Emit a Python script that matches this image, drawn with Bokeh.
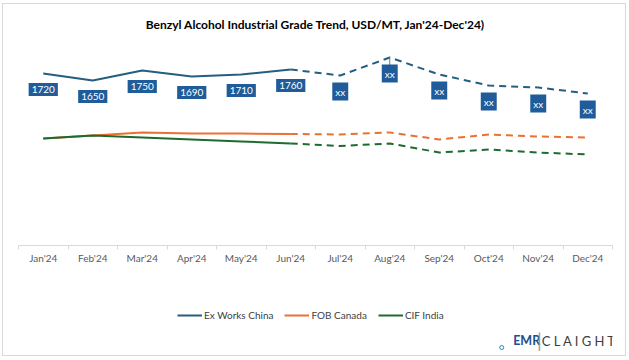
from bokeh.plotting import figure
from bokeh.layouts import column
from bokeh.models import Range1d, FixedTicker, Legend, LegendItem, ColumnDataSource
from bokeh.core.properties import value
from bokeh.embed import file_html
from bokeh.resources import INLINE

months = ["Jan'24", "Feb'24", "Mar'24", "Apr'24", "May'24", "Jun'24",
          "Jul'24", "Aug'24", "Sep'24", "Oct'24", "Nov'24", "Dec'24"]
ex_works_china = [1720, 1650, 1750, 1690, 1710, 1760, 1700, 1880, 1710, 1600, 1580, 1520]
fob_canada = [1070, 1100, 1130, 1120, 1120, 1115, 1110, 1130, 1060, 1110, 1090, 1080]
cif_india = [1070, 1100, 1080, 1060, 1040, 1020, 995, 1020, 930, 960, 930, 910]
ex_labels = ["1720", "1650", "1750", "1690", "1710", "1760", "xx", "xx", "xx", "xx", "xx", "xx"]
n_actual = 6  # Jan..Jun solid, Jun..Dec dashed
series_names = ["Ex Works China", "FOB Canada", "CIF India"]
title_text = "Benzyl Alcohol Industrial Grade Trend, USD/MT, Jan'24-Dec'24)"
logo_parts = ["EMR", "|", "C L A I G H T"]

FONT = "Lato"
BLUE = "#255E7E"
ORANGE = "#E97132"
GREEN = "#1E6B30"
BOX = "#1F5C99"
colors = [BLUE, ORANGE, GREEN]

xs = [i + 0.5 for i in range(len(months))]

W = 622
H1 = 286
H2 = 65
p = figure(width=W, height=H1, output_backend="svg", toolbar_location=None,
           x_range=Range1d(0, len(months)), y_range=Range1d(0, 2050),
           y_axis_location=None, min_border_left=15, min_border_right=13,
           min_border_top=36, min_border_bottom=H1 - 241)
p.outline_line_color = None
p.xgrid.visible = False
p.ygrid.visible = False
p.background_fill_color = "white"
p.border_fill_color = "white"

p.title.text = title_text
p.title.align = "center"
p.title.text_font = FONT
p.title.text_font_style = "bold"
p.title.text_font_size = "12px"
p.title.text_color = "#000000"
p.title.standoff = 18

ax = p.xaxis[0]
ax.ticker = FixedTicker(ticks=xs, minor_ticks=list(range(len(months) + 1)))
ax.major_label_overrides = {x: m for x, m in zip(xs, months)}
ax.major_tick_line_color = None
ax.major_tick_out = 0
ax.major_tick_in = 0
ax.minor_tick_out = 4
ax.minor_tick_in = 0
ax.minor_tick_line_color = "#d9d9d9"
ax.axis_line_color = "#d9d9d9"
ax.major_label_standoff = 2
ax.major_label_text_font = FONT
ax.major_label_text_font_size = "10px"
ax.major_label_text_color = "#595959"

for vals, col in zip([ex_works_china, fob_canada, cif_india], colors):
    p.line(xs[:n_actual], vals[:n_actual], line_color=col, line_width=2)
    p.line(xs[n_actual - 1:], vals[n_actual - 1:], line_color=col, line_width=2,
           line_dash="7 5")

# leader line for Aug label
aug = months.index("Aug'24")
p.segment(x0=[xs[aug]], y0=[ex_works_china[aug]], x1=[xs[aug]],
          y1=[ex_works_china[aug] - 80], line_color="#5b7a99", line_width=1)

src = ColumnDataSource(dict(x=xs, y=ex_works_china, t=ex_labels))
p.text(x="x", y="y", text="t", source=src, y_offset=16, text_align="center",
       text_baseline="middle", text_color="white", text_font=value(FONT),
       text_font_size="10px", background_fill_color=BOX, padding=3)

# legend + logo strip
q = figure(width=W, height=H2, output_backend="svg", toolbar_location=None,
           x_range=Range1d(0, W), y_range=Range1d(0, H2), x_axis_location=None,
           y_axis_location=None, min_border=0)
q.outline_line_color = None
q.xgrid.visible = False
q.ygrid.visible = False
items = []
for name, col in zip(series_names, colors):
    # legend proxies, drawn outside the visible strip
    r = q.line(x=[-100, -90], y=[-100, -100], line_color=col, line_width=2)
    items.append(LegendItem(label=name, renderers=[r]))
legend = Legend(items=items, location=(159, 34), orientation="horizontal",
                glyph_width=25, glyph_height=12, label_height=12, label_standoff=2,
                spacing=11, padding=0, margin=0, border_line_color=None,
                background_fill_alpha=0, label_text_font=FONT,
                label_text_font_size="10px", label_text_color="#404040")
q.add_layout(legend)

q.text(x=[518], y=[15], text=[logo_parts[0]], text_font=value(FONT), text_font_style="bold",
       text_font_size="12.5px", text_color="#1F4E8C", text_baseline="middle")
q.text(x=[543], y=[15], text=[logo_parts[1]], text_font=value(FONT),
       text_font_size="19px", text_color="#9a9a9a", text_baseline="middle")
q.text(x=[548], y=[15], text=[logo_parts[2]], text_font=value(FONT),
       text_font_size="13px", text_color="#404040", text_baseline="middle")
q.scatter(x=[506], y=[8], size=4, marker="circle", fill_color=None,
          line_color="#1F8AC0", line_width=1)

layout = column(p, q, spacing=0,
                styles={"border": "1px solid #d9d9d9", "margin-left": "2px", "margin-top": "3px"})

open("out.html", "w").write(file_html(layout, INLINE))
